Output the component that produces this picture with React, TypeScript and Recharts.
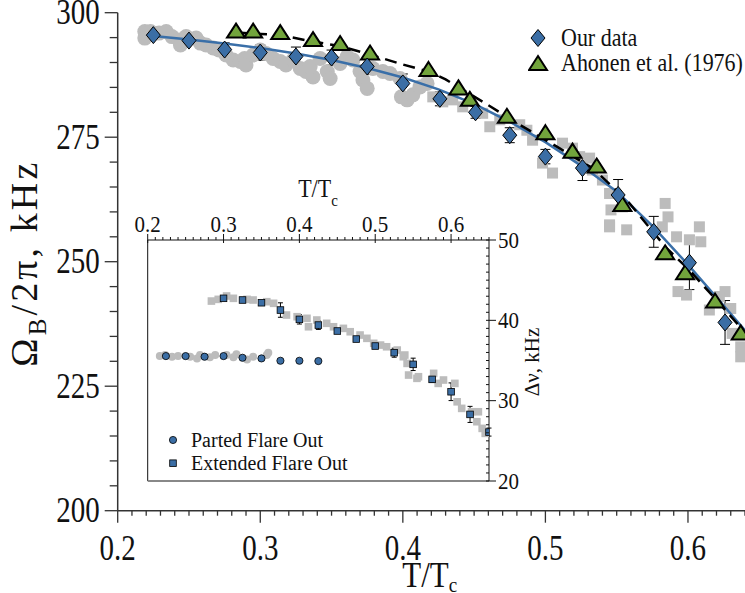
import React from 'react';
import { ComposedChart, Scatter, XAxis, YAxis, ErrorBar, ReferenceLine, Legend } from 'recharts';

const FONT = '"Liberation Serif", "Times New Roman", serif';
const INK = '#111';
const AXIS = '#333';
const BLUE = '#3b6ea5';
const LINE_BLUE = '#3a6fa8';
const GREEN = '#72a43c';
const GRAY = '#bcbcbc';

// ---- main panel: Omega_B/2pi (kHz) vs T/Tc ----
const OUR_T = [0.225, 0.25, 0.275, 0.3, 0.325, 0.35, 0.375, 0.4, 0.426, 0.451, 0.475, 0.5, 0.526, 0.551, 0.576, 0.601, 0.626];
const OUR_F = [295.5, 294.4, 292.6, 292.0, 291.2, 291.0, 289.2, 285.8, 282.7, 280.0, 275.4, 271.1, 268.8, 263.4, 256.0, 249.8, 237.8];
const OUR_ERR = [0, 0, 1.35, 1.5, 1.9, 1.5, 1.6, 1.9, 1.4, 1.2, 1.5, 1.45, 2.5, 3.1, 3.1, 5.4, 4.4];

const AHONEN_T = [0.283, 0.295, 0.314, 0.337, 0.356, 0.377, 0.418, 0.439, 0.447, 0.473, 0.5, 0.519, 0.536, 0.554, 0.584, 0.598, 0.619, 0.637];
const AHONEN_F = [296.2, 296.2, 295.9, 294.5, 293.7, 291.8, 288.5, 284.8, 282.5, 279.1, 275.8, 272.1, 269.1, 261.4, 251.7, 247.7, 242.0, 235.6];

// fitted curves
const FIT_T = [0.225, 0.25, 0.275, 0.3, 0.325, 0.35, 0.375, 0.4, 0.425, 0.45, 0.475, 0.5, 0.525, 0.55, 0.575, 0.6, 0.625, 0.64];
const FIT_F = [295.3, 294.6, 293.8, 292.9, 291.8, 290.5, 288.9, 287.0, 284.6, 281.7, 278.1, 274.0, 269.3, 264.1, 257.2, 249.4, 241.2, 236.2];
const DASH_T = [0.283, 0.314, 0.337, 0.356, 0.377, 0.4, 0.418, 0.43, 0.459, 0.482, 0.508, 0.533, 0.557, 0.585, 0.601, 0.619, 0.64];
const DASH_F = [296.0, 295.5, 294.2, 293.3, 291.6, 289.6, 288.2, 286.6, 281.6, 277.5, 273.1, 268.8, 262.4, 252.7, 248.3, 242.6, 235.8];

// grey background clouds
const CLOUD_C_T = [0.219, 0.219, 0.223, 0.229, 0.234, 0.238, 0.243, 0.244, 0.248, 0.255, 0.258, 0.262, 0.267, 0.271, 0.276, 0.281, 0.286, 0.289, 0.29, 0.295, 0.3, 0.304, 0.309, 0.314, 0.318, 0.323, 0.328, 0.332, 0.337, 0.335, 0.342, 0.347, 0.349, 0.356, 0.361, 0.365, 0.37, 0.372, 0.375, 0.379, 0.386, 0.391, 0.398, 0.399, 0.403, 0.407, 0.412, 0.417];
const CLOUD_C_F = [296.2, 294.9, 296.2, 295.9, 296.2, 295.2, 294.5, 293.5, 295.2, 294.9, 293.9, 293.5, 292.9, 292.5, 291.5, 290.5, 290.2, 290.8, 289.5, 291.5, 292.5, 291.8, 290.8, 290.2, 289.5, 290.5, 288.8, 288.2, 287.1, 289.2, 290.8, 288.2, 286.8, 289.8, 291.2, 290.5, 288.2, 286.5, 284.8, 288.8, 288.2, 287.8, 286.8, 283.1, 282.5, 283.5, 285.1, 285.8];
const CLOUD_S_T = [0.421, 0.428, 0.435, 0.442, 0.456, 0.461, 0.468, 0.482, 0.487, 0.491, 0.498, 0.505, 0.512, 0.519, 0.524, 0.531, 0.533, 0.54, 0.545, 0.546, 0.554, 0.545, 0.557, 0.584, 0.586, 0.592, 0.608, 0.609, 0.601, 0.545, 0.582, 0.593, 0.599, 0.615, 0.626, 0.63, 0.631, 0.637, 0.637, 0.622];
const CLOUD_S_F = [283.1, 282.1, 282.5, 281.1, 279.8, 277.1, 278.5, 277.5, 276.4, 274.4, 269.8, 267.8, 273.8, 272.8, 271.1, 270.8, 268.4, 266.4, 263.7, 260.4, 261.0, 257.0, 256.4, 261.7, 259.0, 255.0, 257.0, 254.0, 254.4, 257.4, 257.0, 244.0, 243.3, 240.3, 244.0, 240.6, 235.6, 232.9, 230.9, 243.0];

// ---- inset: delta nu (kHz) vs T/Tc ----
const PARTED_T = [0.224, 0.25, 0.275, 0.3, 0.325, 0.35, 0.375, 0.4, 0.425];
const PARTED_DV = [35.55, 35.55, 35.47, 35.55, 35.34, 35.26, 34.97, 34.97, 34.93];
const EXT_T = [0.3, 0.325, 0.35, 0.375, 0.4, 0.425, 0.45, 0.475, 0.5, 0.525, 0.55, 0.575, 0.6, 0.625, 0.65];
const EXT_DV = [42.74, 42.53, 42.19, 41.28, 40.12, 39.41, 38.67, 37.67, 36.8, 35.97, 34.52, 32.65, 31.11, 28.29, 26.09];
const EXT_ERR = [0, 0, 0, 0.9, 0.58, 0.54, 0, 0, 0, 0.56, 0.77, 0.37, 1.1, 1.0, 0.5];

const IN_CLOUD_C_T = [0.216, 0.223, 0.232, 0.24, 0.256, 0.265, 0.269, 0.282, 0.289, 0.304, 0.313, 0.317, 0.331, 0.339, 0.357, 0.359];
const IN_CLOUD_C_DV = [35.55, 35.68, 35.47, 35.55, 35.47, 35.26, 35.68, 35.39, 35.68, 35.68, 35.39, 35.77, 35.14, 35.47, 35.68, 35.97];
const IN_CLOUD_S_T = [0.284, 0.293, 0.304, 0.313, 0.331, 0.339, 0.357, 0.366, 0.383, 0.397, 0.41, 0.412, 0.423, 0.436, 0.445, 0.458, 0.467, 0.48, 0.489, 0.498, 0.507, 0.515, 0.529, 0.537, 0.542, 0.544, 0.555, 0.539, 0.557, 0.577, 0.583, 0.59, 0.605, 0.608, 0.614, 0.627, 0.636, 0.634, 0.641, 0.645];
const IN_CLOUD_S_DV = [42.4, 42.61, 43.03, 42.74, 42.61, 42.53, 42.32, 42.12, 40.66, 40.45, 40.25, 39.2, 40.04, 39.63, 39.2, 39.0, 38.58, 38.17, 37.76, 37.14, 36.92, 36.71, 36.3, 35.47, 34.64, 33.19, 32.78, 35.68, 32.98, 33.4, 32.15, 32.57, 32.15, 29.86, 29.04, 28.62, 28.62, 27.38, 26.55, 25.93];

// ticks
const MAIN_X_TICKS = Array.from({ length: 45 }, (_, i) => (20 + i) / 100);
const MAIN_X_LABELS = [0.2, 0.3, 0.4, 0.5, 0.6];
const MAIN_Y_TICKS = Array.from({ length: 21 }, (_, i) => 200 + i * 5);
const MAIN_Y_LABELS = [200, 225, 250, 275, 300];
const IN_X_TICKS = Array.from({ length: 46 }, (_, i) => (20 + i) / 100);
const IN_X_LABELS = [0.2, 0.3, 0.4, 0.5, 0.6];
const IN_Y_TICKS = Array.from({ length: 31 }, (_, i) => 20 + i);
const IN_Y_LABELS = [20, 30, 40, 50];

const pts = (xs: number[], ys: number[], errs?: number[]) =>
  xs.map((x, i) => ({ x, y: ys[i], err: errs ? errs[i] : 0 }));

const isIn = (list: number[], v: number) => list.some((m) => Math.abs(m - v) < 1e-6);

// the original figure's lettering is a bit taller than wide
const TallText = ({ x, y, sy = 1.2, children, ...rest }: any) => (
  <text transform={`translate(${x},${y}) scale(1,${sy})`} fontFamily={FONT} fill={INK} {...rest}>
    {children}
  </text>
);

const MainXTick = ({ x, y, payload }: any) => {
  const major = isIn(MAIN_X_LABELS, payload.value);
  return (
    <g>
      <line x1={x} x2={x} y1={y} y2={y + (major ? 12 : 5)} stroke={AXIS} strokeWidth={1.3} />
      {major && (
        <TallText x={x} y={y + 49} textAnchor="middle" fontSize={29}>
          {payload.value.toFixed(1)}
        </TallText>
      )}
    </g>
  );
};

const MainYTick = ({ x, y, payload }: any) => {
  const major = isIn(MAIN_Y_LABELS, payload.value);
  return (
    <g>
      <line x1={x - (major ? 13 : 8)} x2={x} y1={y} y2={y} stroke={AXIS} strokeWidth={1.3} />
      {major && (
        <TallText x={x - 18} y={y + 11.5} textAnchor="end" fontSize={29}>
          {payload.value}
        </TallText>
      )}
    </g>
  );
};

const InsetXTick = ({ x, y, payload }: any) => {
  const major = isIn(IN_X_LABELS, payload.value);
  return (
    <g>
      <line x1={x} x2={x} y1={y - (major ? 6 : 3)} y2={y + (major ? 3 : 0)} stroke={INK} strokeWidth={1} />
      {major && (
        <TallText x={x} y={y - 8} sy={1.08} textAnchor="middle" fontSize={21}>
          {payload.value.toFixed(1)}
        </TallText>
      )}
    </g>
  );
};

const InsetYTick = ({ x, y, payload }: any) => {
  const major = isIn(IN_Y_LABELS, payload.value);
  return (
    <g>
      <line x1={x - 3} x2={x + (major ? 7 : 0)} y1={y} y2={y} stroke={INK} strokeWidth={1} />
      {major && (
        <TallText x={x + 9} y={y + 7.5} sy={1.08} textAnchor="start" fontSize={21}>
          {payload.value}
        </TallText>
      )}
    </g>
  );
};

const MainXTitle = ({ viewBox }: any) => (
  <TallText x={viewBox.x + 312} y={viewBox.y + 76.5} sy={1.15} textAnchor="middle" fontSize={31}>
    T/T<tspan dy={4.5} fontSize={19}>c</tspan>
  </TallText>
);

const MainYTitle = ({ viewBox }: any) => {
  const cx = 37;
  const cy = viewBox.y + 252;
  return (
    <text
      x={cx}
      y={cy}
      transform={`rotate(-90 ${cx} ${cy})`}
      textAnchor="middle"
      fontSize={38}
      fontFamily={FONT}
      fill={INK}
      textLength={204}
      lengthAdjust="spacing"
    >
      Ω<tspan dy={9} fontSize={25}>B</tspan>
      <tspan dy={-9}>/2π, kHz</tspan>
    </text>
  );
};

const InsetXTitle = ({ viewBox }: any) => (
  <TallText x={318} y={viewBox.y + viewBox.height - 43} sy={1.1} textAnchor="middle" fontSize={22}>
    T/T<tspan dy={8} fontSize={15}>c</tspan>
  </TallText>
);

const InsetYTitle = ({ viewBox }: any) => {
  const cx = viewBox.x + 50;
  const cy = 362;
  return (
    <text x={cx} y={cy} transform={`rotate(-90 ${cx} ${cy})`} textAnchor="middle" fontSize={21} fontFamily={FONT} fill={INK}>
      Δν, kHz
    </text>
  );
};

const diamond = (cx: number, cy: number) =>
  `M${cx},${cy - 8.5} L${cx + 7},${cy} L${cx},${cy + 8.5} L${cx - 7},${cy} Z`;
const triangle = (cx: number, cy: number) =>
  `M${cx},${cy - 8} L${cx + 9},${cy + 6} L${cx - 9},${cy + 6} Z`;

const Diamond = (p: any) => <path d={diamond(p.cx, p.cy)} fill={BLUE} stroke="#000" strokeWidth={1} />;
const Triangle = (p: any) => <path d={triangle(p.cx, p.cy)} fill={GREEN} stroke="#000" strokeWidth={2} />;
const GrayCircle = (p: any) => <circle cx={p.cx} cy={p.cy} r={7.5} fill={GRAY} />;
const GraySquare = (p: any) => <rect x={p.cx - 5.5} y={p.cy - 5.5} width={11} height={11} fill={GRAY} />;
const NoDot = () => <g />;

const InGrayCircle = (p: any) => <circle cx={p.cx} cy={p.cy} r={4} fill={GRAY} />;
const InGraySquare = (p: any) => <rect x={p.cx - 3.8} y={p.cy - 3.8} width={7.6} height={7.6} fill={GRAY} />;
const InCircle = (p: any) => <circle cx={p.cx} cy={p.cy} r={3.6} fill={BLUE} stroke="#000" strokeWidth={0.8} />;
const InSquare = (p: any) => <rect x={p.cx - 3.3} y={p.cy - 3.3} width={6.6} height={6.6} fill={BLUE} stroke="#000" strokeWidth={0.8} />;

const MainLegend = () => (
  <svg width={217} height={60} style={{ display: 'block' }}>
    <path d={diamond(10, 18)} fill={BLUE} stroke="#000" strokeWidth={1} />
    <TallText x={33} y={25.5} sy={1.1} fontSize={22}>Our data</TallText>
    <path d={triangle(10, 44)} fill={GREEN} stroke="#000" strokeWidth={2} />
    <TallText x={33} y={51} sy={1.1} fontSize={22}>Ahonen et al. (1976)</TallText>
  </svg>
);

const InsetLegend = () => (
  <svg width={200} height={50} style={{ display: 'block' }}>
    <circle cx={10} cy={12} r={3.6} fill={BLUE} stroke="#000" strokeWidth={0.8} />
    <TallText x={28} y={19} sy={1.08} fontSize={20}>Parted Flare Out</TallText>
    <rect x={6.7} y={31.9} width={6.6} height={6.6} fill={BLUE} stroke="#000" strokeWidth={0.8} />
    <TallText x={28} y={42} sy={1.08} fontSize={20}>Extended Flare Out</TallText>
  </svg>
);

const W = 745;
const H = 593;

export default function App() {
  return (
    <div style={{ position: 'absolute', left: 0, top: 0, width: W, height: H, background: '#fff' }}>
      <div style={{ position: 'absolute', left: 0, top: 0 }}>
        <ComposedChart width={W} height={H} margin={{ top: 12.7, right: 0, bottom: 0, left: 0 }}>
          <XAxis
            type="number"
            dataKey="x"
            domain={[0.2, 0.64]}
            ticks={MAIN_X_TICKS}
            interval={0}
            height={82.3}
            tickSize={0}
            tickMargin={0}
            tickLine={false}
            tick={<MainXTick />}
            axisLine={{ stroke: AXIS, strokeWidth: 1.5 }}
            allowDataOverflow
            label={MainXTitle}
          />
          <YAxis
            type="number"
            dataKey="y"
            domain={[200, 300]}
            ticks={MAIN_Y_TICKS}
            interval={0}
            width={117.7}
            tickSize={0}
            tickMargin={0}
            tickLine={false}
            tick={<MainYTick />}
            axisLine={{ stroke: AXIS, strokeWidth: 1.5 }}
            allowDataOverflow
            label={MainYTitle}
          />
          <Scatter data={pts(CLOUD_C_T, CLOUD_C_F)} dataKey="y" shape={GrayCircle} isAnimationActive={false} />
          <Scatter data={pts(CLOUD_S_T, CLOUD_S_F)} dataKey="y" shape={GraySquare} isAnimationActive={false} />
          <Scatter data={pts(FIT_T, FIT_F)} dataKey="y" line={{ stroke: LINE_BLUE, strokeWidth: 2.5 }} shape={NoDot} isAnimationActive={false} />
          <Scatter data={pts(DASH_T, DASH_F)} dataKey="y" line={{ stroke: '#000', strokeWidth: 2.5, strokeDasharray: '12 7' }} shape={NoDot} isAnimationActive={false} />
          <Scatter data={pts(AHONEN_T, AHONEN_F)} dataKey="y" shape={Triangle} isAnimationActive={false} />
          <Scatter data={pts(OUR_T, OUR_F, OUR_ERR)} dataKey="y" shape={Diamond} isAnimationActive={false}>
            <ErrorBar dataKey="err" direction="y" width={5} stroke="#000" strokeWidth={1} />
          </Scatter>
          <Legend
            layout="horizontal"
            verticalAlign="middle"
            align="center"
            content={() => <MainLegend />}
            wrapperStyle={{ position: 'absolute', left: 528, top: 20, width: 217, height: 60 }}
          />
        </ComposedChart>
      </div>
      <div style={{ position: 'absolute', left: 0, top: 0 }}>
        <ComposedChart width={W} height={H} margin={{ top: 0, right: 0, bottom: 112, left: 147.7 }}>
          <XAxis
            type="number"
            dataKey="x"
            orientation="top"
            domain={[0.2, 0.65]}
            ticks={IN_X_TICKS}
            interval={0}
            height={240}
            tickSize={0}
            tickMargin={0}
            tickLine={false}
            tick={<InsetXTick />}
            axisLine={{ stroke: INK, strokeWidth: 1 }}
            allowDataOverflow
            label={InsetXTitle}
          />
          <YAxis
            type="number"
            dataKey="y"
            orientation="right"
            domain={[20, 50]}
            ticks={IN_Y_TICKS}
            interval={0}
            width={256}
            tickSize={0}
            tickMargin={0}
            tickLine={false}
            tick={<InsetYTick />}
            axisLine={{ stroke: INK, strokeWidth: 1 }}
            allowDataOverflow
            label={InsetYTitle}
          />
          <ReferenceLine x={0.2} stroke={INK} strokeWidth={1} />
          <ReferenceLine y={20} stroke="#888" strokeWidth={2} />
          <Scatter data={pts(IN_CLOUD_C_T, IN_CLOUD_C_DV)} dataKey="y" shape={InGrayCircle} isAnimationActive={false} />
          <Scatter data={pts(IN_CLOUD_S_T, IN_CLOUD_S_DV)} dataKey="y" shape={InGraySquare} isAnimationActive={false} />
          <Scatter data={pts(PARTED_T, PARTED_DV)} dataKey="y" shape={InCircle} isAnimationActive={false} />
          <Scatter data={pts(EXT_T, EXT_DV, EXT_ERR)} dataKey="y" shape={InSquare} isAnimationActive={false}>
            <ErrorBar dataKey="err" direction="y" width={2.5} stroke="#000" strokeWidth={1} />
          </Scatter>
          <Legend
            layout="horizontal"
            verticalAlign="middle"
            align="center"
            content={() => <InsetLegend />}
            wrapperStyle={{ position: 'absolute', left: 163, top: 428, width: 200, height: 50 }}
          />
        </ComposedChart>
      </div>
    </div>
  );
}
